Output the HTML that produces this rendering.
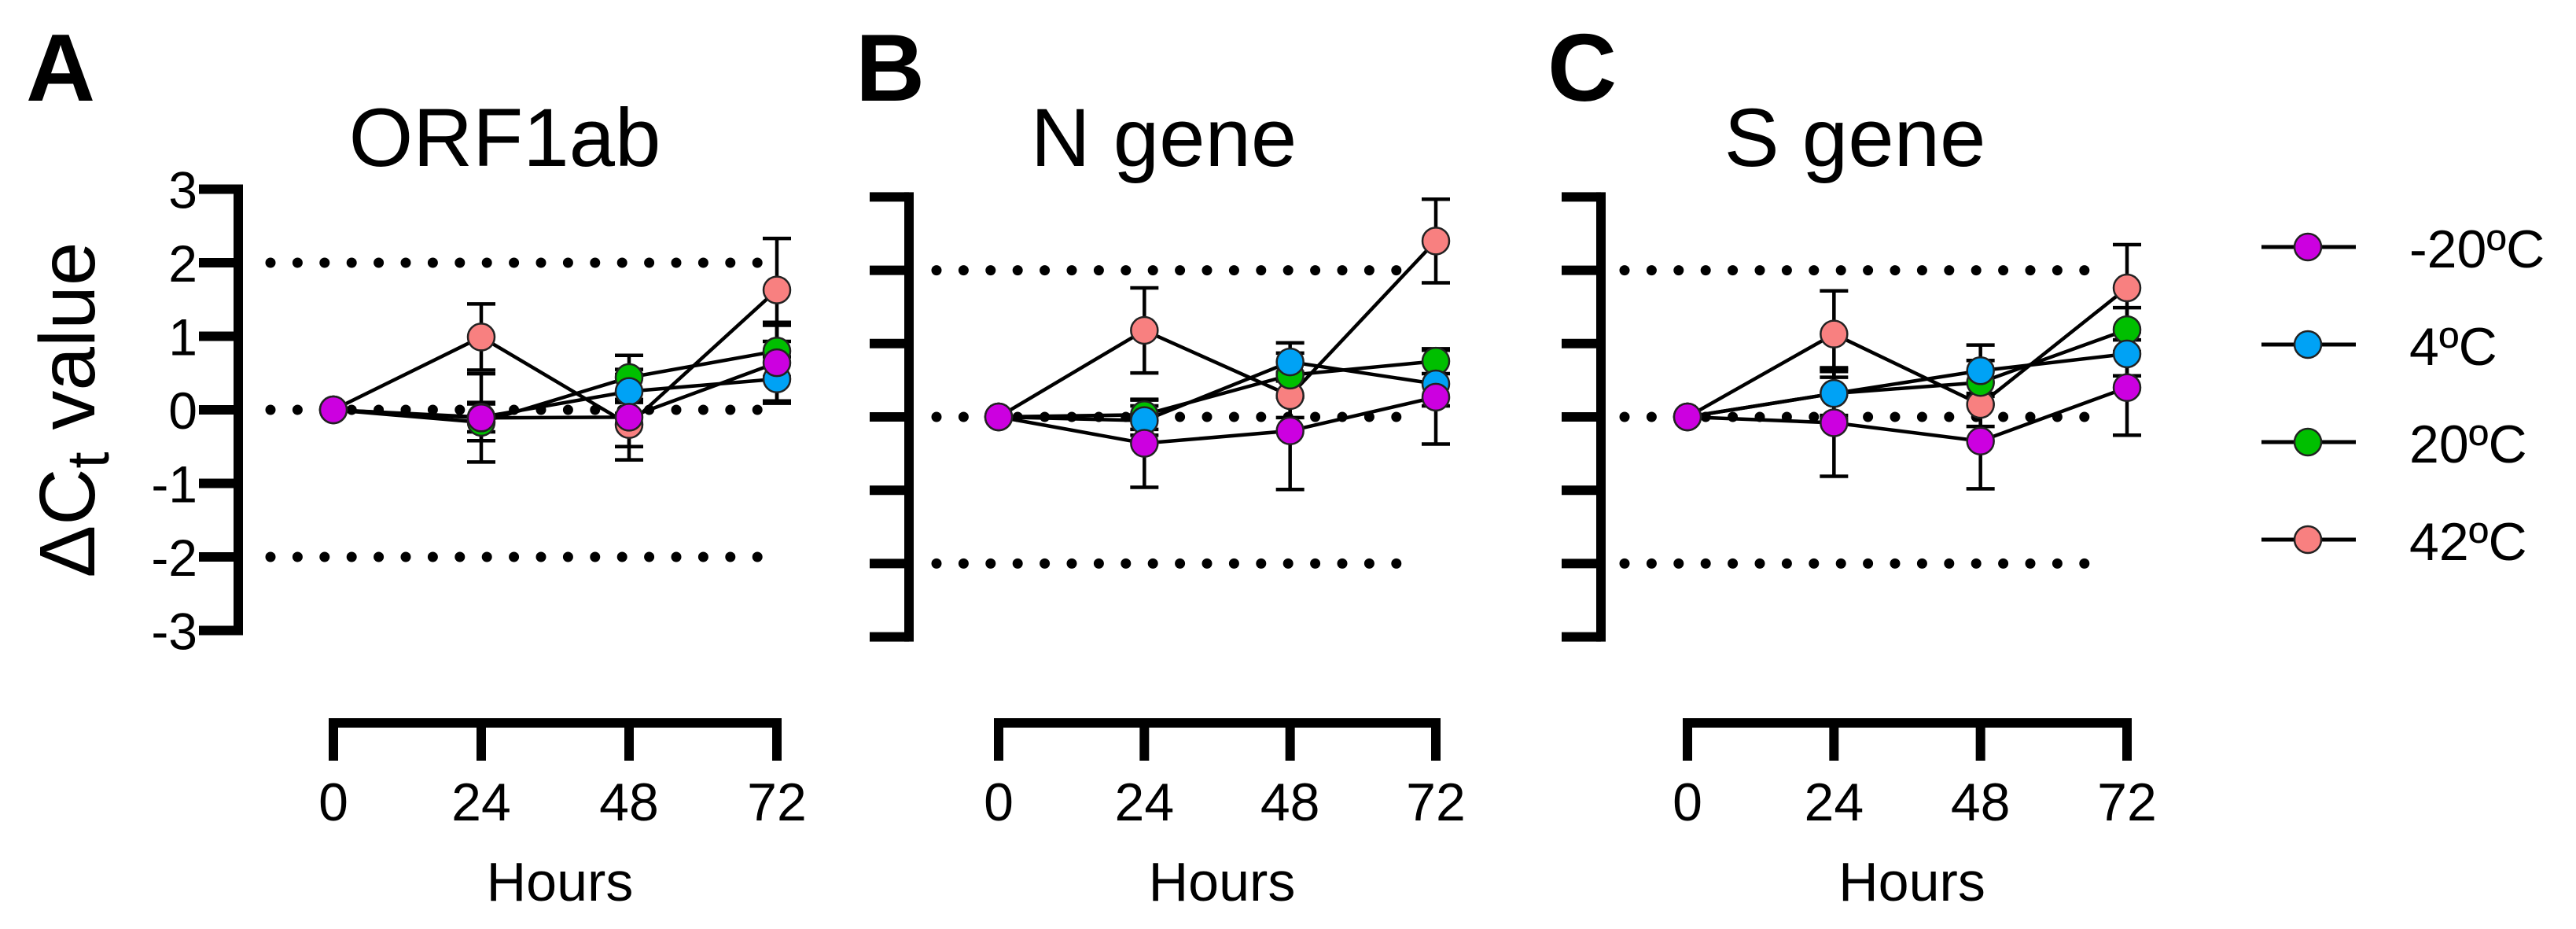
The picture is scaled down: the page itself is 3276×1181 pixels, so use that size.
<!DOCTYPE html>
<html><head><meta charset="utf-8"><style>
html,body{margin:0;padding:0;background:#fff;}
svg{display:block;font-family:"Liberation Sans",Arial,sans-serif;}
</style></head><body>
<svg id="chart" xmlns="http://www.w3.org/2000/svg" width="3276" height="1181" viewBox="0 0 3276 1181">
<rect width="3276" height="1181" fill="#fff"/>
</svg>
<script>
// ---- data ----
const hours = [0, 24, 48, 72];
const xTickLabels = ["0", "24", "48", "72"];
const yTickValues = [3, 2, 1, 0, -1, -2, -3];
const yTickLabels = ["3", "2", "1", "0", "-1", "-2", "-3"];
const refLines = [2, 0, -2];
const seriesNames = ["-20ºC", "4ºC", "20ºC", "42ºC"];
const panelTitles = ["ORF1ab", "N gene", "S gene"];
const panelLetters = ["A", "B", "C"];
// panel A (ORF1ab)
const orfM20 = [0, -0.11, -0.1, 0.64];
const orf4 = [0, -0.1, 0.25, 0.42];
const orf20 = [0, -0.17, 0.44, 0.8];
const orf42 = [0, 0.99, -0.2, 1.63];
const orfM20Sd = [0, 0.6, 0.58, 0.55];
const orf4Sd = [0, 0.2, 0.3, 0.3];
const orf20Sd = [0, 0.25, 0.3, 0.35];
const orf42Sd = [0, 0.45, 0.3, 0.7];
// panel B (N gene)
const nM20 = [0, -0.36, -0.19, 0.27];
const n4 = [0, -0.05, 0.75, 0.45];
const n20 = [0, 0.03, 0.57, 0.76];
const n42 = [0, 1.18, 0.29, 2.4];
const nM20Sd = [0, 0.6, 0.8, 0.64];
const n4Sd = [0, 0.2, 0.26, 0.3];
const n20Sd = [0, 0.2, 0.3, 0.17];
const n42Sd = [0, 0.58, 0.3, 0.57];
// panel C (S gene)
const sM20 = [0, -0.08, -0.33, 0.4];
const s4 = [0, 0.32, 0.63, 0.86];
const s20 = [0, 0.32, 0.47, 1.19];
const s42 = [0, 1.13, 0.17, 1.76];
const sM20Sd = [0, 0.73, 0.65, 0.65];
const s4Sd = [0, 0.3, 0.35, 0.3];
const s20Sd = [0, 0.35, 0.3, 0.3];
const s42Sd = [0, 0.59, 0.3, 0.59];

// ---- layout ----
const colors = ["#cc00e0", "#00a2f5", "#00bf00", "#f88080"];
const drawOrder = [3, 2, 1, 0];
const panels = [
  {vals:[orfM20,orf4,orf20,orf42], sds:[orfM20Sd,orf4Sd,orf20Sd,orf42Sd], yAxisX:303, y0:521, unit:93.5, x0:424, x72:988, xAxisY:919, dotX0:344, dotX1:968, titleX:642, letterX:33, showLabels:true},
  {vals:[nM20,n4,n20,n42], sds:[nM20Sd,n4Sd,n20Sd,n42Sd], yAxisX:1156, y0:530, unit:93.2, x0:1270, x72:1826, xAxisY:919, dotX0:1191, dotX1:1807, titleX:1480, letterX:1088, showLabels:false},
  {vals:[sM20,s4,s20,s42], sds:[sM20Sd,s4Sd,s20Sd,s42Sd], yAxisX:2036, y0:530, unit:93.2, x0:2146, x72:2705, xAxisY:919, dotX0:2066, dotX1:2682, titleX:2359, letterX:1968, showLabels:false}
];
const svg = document.getElementById('chart');
const NS = "http://www.w3.org/2000/svg";
function mk(tag, attrs, parent){
  const e = document.createElementNS(NS, tag);
  for (const k in attrs) e.setAttribute(k, attrs[k]);
  (parent||svg).appendChild(e); return e;
}
panels.forEach((p, pi) => {
  const g = mk('g', {});
  
  
  const yS = v => p.y0 - v * p.unit;
  const xS = h => p.x0 + (h / 72) * (p.x72 - p.x0);
  const yTop = yS(3), yBot = yS(-3);
  // letter
  const L = mk('text', {x:p.letterX, y:128, 'font-size':122, 'font-weight':'bold', fill:'#000'}, g);
  L.textContent = panelLetters[pi];
  
  
  const T = mk('text', {x:p.titleX, y:211, 'font-size':105, 'text-anchor':'middle', fill:'#000'}, g);
  T.textContent = panelTitles[pi];
  
  
  // y axis
  const ya = mk('g', {}, g);
  
  
  mk('line', {x1:p.yAxisX, y1:yTop-6, x2:p.yAxisX, y2:yBot+6, stroke:'#000','stroke-width':12}, ya);
  yTickValues.forEach((v, i) => {
    mk('line', {x1:p.yAxisX-50, y1:yS(v), x2:p.yAxisX, y2:yS(v), stroke:'#000','stroke-width':12}, ya);
    if (p.showLabels) {
      const t = mk('text', {x:p.yAxisX-52, y:yS(v)+24, 'font-size':66, 'text-anchor':'end', fill:'#000'}, ya);
      t.textContent = yTickLabels[i];
      
      
    }
  });
  // reference dotted lines
  refLines.forEach(v => {
    const d = mk('line', {x1:p.dotX0, y1:yS(v), x2:p.dotX1, y2:yS(v), stroke:'#000','stroke-width':13,'stroke-linecap':'round','stroke-dasharray':'0 34.4'}, g);
    
    
  });
  // x axis
  const xa = mk('g', {}, g);
  
  
  mk('line', {x1:xS(0)-6, y1:p.xAxisY, x2:xS(72)+6, y2:p.xAxisY, stroke:'#000','stroke-width':12}, xa);
  hours.forEach((h, i) => {
    mk('line', {x1:xS(h), y1:p.xAxisY, x2:xS(h), y2:p.xAxisY+48, stroke:'#000','stroke-width':12}, xa);
    const t = mk('text', {x:xS(h), y:1043, 'font-size':68, 'text-anchor':'middle', fill:'#000'}, xa);
    t.textContent = xTickLabels[i];
    
    
  });
  const xt = mk('text', {x:(xS(0)+xS(72))/2 + 6, y:1145, 'font-size':70, 'text-anchor':'middle', fill:'#000'}, g);
  xt.textContent = 'Hours';
  
  
  // series lines & error bars
  drawOrder.forEach(si => {
    const vals = p.vals[si], sds = p.sds[si];
    const sg = mk('g', {}, g);
    
    
    const pts = hours.map((h, i) => xS(h) + ',' + yS(vals[i])).join(' ');
    const pl = mk('polyline', {points:pts, fill:'none', stroke:'#000', 'stroke-width':4.5, 'stroke-linejoin':'round'}, sg);
    
    
    hours.forEach((h, i) => {
      if (sds[i] > 0) {
        const x = xS(h), a = yS(vals[i] + sds[i]), b = yS(vals[i] - sds[i]);
        const eb = mk('path', {d:`M${x},${a}V${b}M${x-18},${a}H${x+18}M${x-18},${b}H${x+18}`, stroke:'#000', 'stroke-width':4.5, fill:'none'}, sg);
        
        
      }
    });
  });
  drawOrder.forEach(si => {
    const vals = p.vals[si];
    hours.forEach((h, i) => {
      const c = mk('circle', {cx:xS(h), cy:yS(vals[i]), r:17, fill:colors[si], stroke:'#222', 'stroke-width':2.5}, g);
      
      
    });
  });
});
// y axis title
const yt = mk('text', {transform:'translate(120,521) rotate(-90)', 'font-size':100, 'text-anchor':'middle', fill:'#000'});


yt.innerHTML = 'ΔC<tspan font-size="76" dy="18">t</tspan><tspan dy="-18"> value</tspan>';
// legend
const lg = mk('g', {});


seriesNames.forEach((n, i) => {
  const y = 314 + i * 124;
  const e = mk('g', {}, lg);
  
  
  mk('line', {x1:2876, y1:y, x2:2996, y2:y, stroke:'#000', 'stroke-width':5}, e);
  mk('circle', {cx:2935, cy:y, r:17, fill:colors[i], stroke:'#222', 'stroke-width':2.5}, e);
  const t = mk('text', {x:3064, y:y+26, 'font-size':68, fill:'#000'}, e);
  t.textContent = n;
});
</script>
</body></html>
